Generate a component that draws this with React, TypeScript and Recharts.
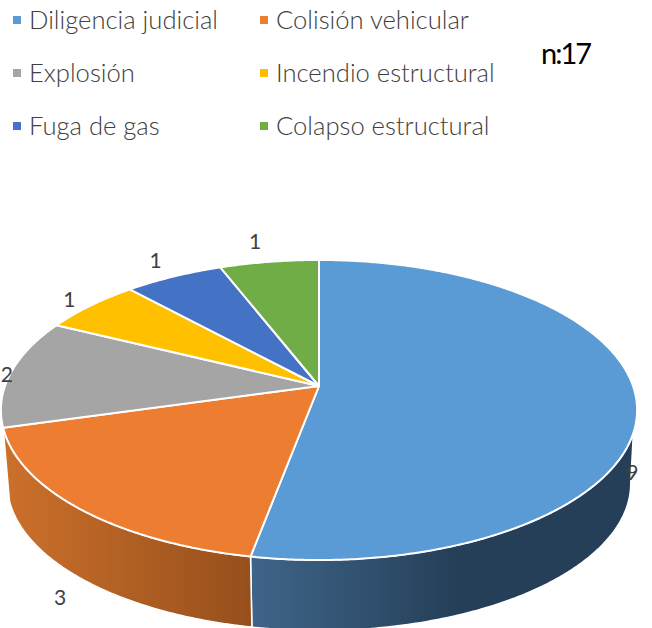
import React from "react";
import { PieChart, Pie, Legend } from "recharts";

const categories = ["Diligencia judicial", "Colisión vehicular", "Explosión", "Incendio estructural", "Fuga de gas", "Colapso estructural"];
const counts = [9, 3, 2, 1, 1, 1];
const colors = ["#5B9BD5", "#ED7D31", "#A5A5A5", "#FFC000", "#4472C4", "#70AD47"];
const wallFills = ["url(#wallBlue)", "url(#wallOrange)", "", "", "", ""];
const labelShift = [[-4, 72], [-19, 88], [-4, 1], [-21, -7], [-18, -17], [-14, -21]];

const rows = categories.map((name, i) => ({
  name,
  value: counts[i],
  fill: colors[i],
  wall: wallFills[i],
}));

const FONT = "Lato, 'Noto Sans', sans-serif";
const TILT_Y = 146.2 / 314;
const PERSP = -0.16;
const DEPTH = 74;
const BASE_SCALE = 0.98;
const WALL_TOP_START = -17.8;
const WALL_BASE_START = -9.2;

// Perspective projection of a point on the pie's circle, angle in Recharts degrees
function project(r: number, deg: number) {
  const t = (deg * Math.PI) / 180;
  const u = Math.cos(t);
  const v = -Math.sin(t);
  const w = 1 + PERSP * v;
  return { x: (r * u) / w, y: (r * TILT_Y * v) / w };
}

function arc(cx: number, cy: number, r: number, a: number, b: number, scale = 1, dy = 0) {
  const n = Math.max(2, Math.ceil(Math.abs(a - b) * 2));
  const pts: string[] = [];
  for (let i = 0; i <= n; i++) {
    const p = project(r, a + ((b - a) * i) / n);
    pts.push(`${(cx + p.x * scale).toFixed(2)} ${(cy + dy + p.y * scale).toFixed(2)}`);
  }
  return pts;
}

function TopFace(props: any) {
  const { cx, cy, outerRadius, startAngle, endAngle, fill } = props;
  const pts = arc(cx, cy, outerRadius, startAngle, endAngle);
  return <path d={`M ${cx} ${cy} L ${pts.join(" L ")} Z`} fill={fill} stroke="#fff" strokeWidth={2} strokeLinejoin="round" />;
}

function Wall(props: any) {
  const { cx, cy, outerRadius, startAngle, endAngle, wall } = props;
  if (!wall) return null;
  const top = arc(cx, cy, outerRadius, Math.min(startAngle, WALL_TOP_START), endAngle);
  const bottom = arc(cx, cy, outerRadius, endAngle, Math.min(startAngle, WALL_BASE_START), BASE_SCALE, DEPTH);
  return <path d={`M ${top.join(" L ")} L ${bottom.join(" L ")} Z`} fill={wall} stroke="#fff" strokeWidth={1.5} strokeLinejoin="round" />;
}

function SliceLabel(props: any) {
  const { cx, cy, outerRadius, midAngle, value, index } = props;
  const p = project(outerRadius, midAngle);
  const s = labelShift[index];
  return (
    <text x={cx + p.x + s[0]} y={cy + p.y + s[1]} textAnchor="middle" dominantBaseline="central" fontFamily={FONT} fontWeight={400} fontSize={21} stroke="none" style={{ fill: "#404040" }}>
      {value}
    </text>
  );
}

function LegendGrid({ payload }: any) {
  const items = (payload ?? []).filter((it: any) => it.type !== "none");
  return (
    <div style={{ display: "grid", gridTemplateColumns: "247px 247px", gridAutoRows: "53px", fontFamily: FONT, fontWeight: 300, fontSize: 25.6, color: "#404040", textAlign: "left" }}>
      {items.slice(0, 6).map((it: any) => (
        <div key={it.value} style={{ display: "flex", alignItems: "center", height: 53, whiteSpace: "nowrap" }}>
          <span style={{ width: 8, height: 8, background: it.color, marginRight: 8, marginTop: 2, flex: "none" }} />
          {it.value}
        </div>
      ))}
    </div>
  );
}

export default function App() {
  return (
    <div style={{ position: "fixed", left: 0, top: 0, width: 652, height: 628, overflow: "hidden", background: "#fff" }}>
      <PieChart width={652} height={628} margin={{ top: 0, right: 0, bottom: 0, left: 0 }}>
        <defs>
          <linearGradient id="wallOrange" gradientUnits="userSpaceOnUse" x1={8} y1={0} x2={252} y2={0}>
            <stop offset="0" stopColor="#CB702B" />
            <stop offset="1" stopColor="#964F1C" />
          </linearGradient>
          <linearGradient id="wallBlue" gradientUnits="userSpaceOnUse" x1={252} y1={0} x2={460} y2={0}>
            <stop offset="0" stopColor="#3F6489" />
            <stop offset="1" stopColor="#243F57" />
          </linearGradient>
        </defs>
        <Legend
          content={<LegendGrid />}
          layout="horizontal"
          align="left"
          verticalAlign="top"
          itemSorter={null}
          height={0}
          wrapperStyle={{ position: "absolute", left: 13, top: -8, width: 500, height: 0 }}
        />
        <Pie data={rows} dataKey="value" nameKey="name" cx={319} cy={386} outerRadius={314} startAngle={90} endAngle={-270} stroke="none" legendType="none" shape={Wall} isAnimationActive={false} />
        <Pie data={rows} dataKey="value" nameKey="name" cx={319} cy={386} outerRadius={314} startAngle={90} endAngle={-270} stroke="#fff" shape={TopFace} label={SliceLabel} labelLine={false} isAnimationActive={false} />
        <text x={541} y={64} fontFamily={FONT} fontSize={29} fill="#000" letterSpacing={-2}>n:17</text>
      </PieChart>
    </div>
  );
}
